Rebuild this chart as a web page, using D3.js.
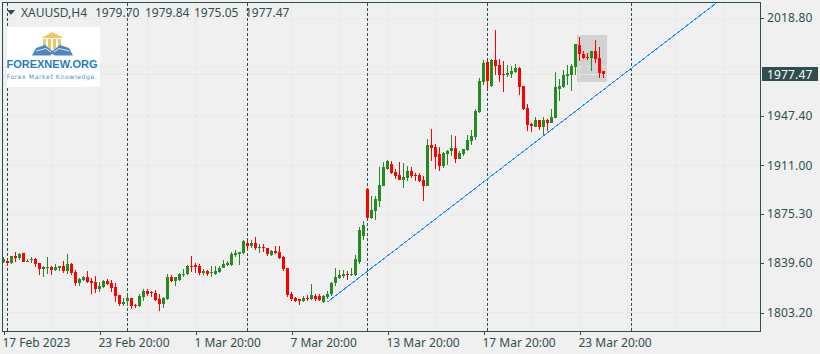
<!DOCTYPE html>
<html><head><meta charset="utf-8">
<script src="https://d3js.org/d3.v7.min.js"></script>
<style>html,body{margin:0;padding:0;background:#f0f0f0}svg{display:block}text{font-family:"Noto Sans",sans-serif;font-size:12px;fill:#2f4f4f}</style>
</head><body><div id="c"></div>
<script>
const opens=[1839.9,1841.2,1839.7,1844.6,1843.1,1846.5,1840.4,1841.6,1842.4,1839.4,1835.1,1835.8,1836.5,1834.3,1836.0,1837.2,1833.6,1838.7,1832.9,1824.8,1827.0,1829.2,1826.3,1825.5,1820.4,1821.9,1826.3,1824.8,1821.9,1816.0,1809.4,1811.6,1813.8,1808.7,1807.9,1814.6,1818.9,1817.9,1817.5,1813.1,1809.4,1813.1,1829.2,1826.3,1827.0,
1830.7,1831.4,1837.2,1838.0,1837.2,1832.1,1833.6,1832.1,1831.4,1832.9,1835.8,1838.0,1838.0,1845.3,1846.0,1846.8,1854.1,1851.9,1854.1,1850.4,1851.2,1850.4,1845.3,1848.2,1847.5,1843.8,1835.8,1816.8,1813.8,1813.1,1811.6,1813.8,1813.1,1815.3,1815.3,1810.9,1814.6,1816.8,1824.8,1828.5,1829.9,1831.4,1830.7,1830.7,
1840.2,1859.2,1893.6,1872.4,1877.5,1884.8,1895.8,1908.3,1911.9,1906.1,1903.9,1900.2,1901.7,1906.8,1903.9,1903.9,1900.2,1895.8,1925.8,1924.4,1919.3,1910.5,1919.3,1921.5,1923.6,1915.6,1919.3,1922.2,1928.8,1931.7,1950.0,1972.0,1986.6,1969.0,1988.1,1984.4,1977.8,1977.1,1977.8,1979.3,1982.2,1969.0,1952.9,1941.2,1939.0,1944.1,1939.0,1944.1,1942.0,1945.6,1966.8,1968.3,1976.4,1977.1,1983.0,1999.1,1992.5,1990.3,1989.5,1994.7,1989.5,1979.70];
const highs=[1843.6,1842.1,1844.6,1847.5,1847.0,1846.5,1842.1,1843.6,1842.9,1839.4,1837.2,1843.8,1837.2,1838.7,1837.2,1840.9,1846.0,1839.4,1834.3,1828.5,1829.9,1833.6,1828.5,1829.9,1825.5,1827.0,1827.7,1827.0,1824.8,1816.0,1813.8,1815.3,1813.8,1809.4,1816.8,1820.4,1820.4,1818.9,1819.7,1816.8,1814.6,1831.4,1830.7,1829.2,1832.1,
1834.8,1838.0,1844.6,1839.2,1838.7,1835.1,1834.3,1837.2,1837.2,1837.2,1841.6,1840.9,1847.5,1849.0,1847.5,1856.3,1856.3,1856.3,1858.5,1853.4,1853.4,1850.4,1849.0,1851.9,1851.9,1844.6,1835.8,1818.2,1814.8,1813.1,1815.3,1816.0,1824.1,1816.8,1816.8,1816.0,1818.9,1825.5,1835.8,1834.3,1834.3,1833.6,1835.8,1845.3,
1865.8,1870.2,1894.4,1888.5,1888.5,1909.7,1913.4,1914.9,1914.1,1908.3,1913.4,1912.7,1910.5,1909.7,1905.3,1905.3,1903.2,1930.2,1937.6,1926.6,1924.4,1920.7,1922.2,1933.2,1932.4,1921.5,1922.9,1933.2,1936.8,1952.2,1974.9,1988.1,1988.1,1988.8,2010.0,1988.8,1987.3,1984.4,1983.7,1985.1,1983.0,1969.0,1955.9,1942.0,1946.3,1944.1,1946.3,1944.9,1952.2,1979.3,1974.2,1980.8,1984.4,1985.1,1999.8,2004.9,1994.7,1993.2,1994.7,2002.7,1997.6,1979.84];
const lows=[1839.2,1837.2,1838.7,1840.2,1841.6,1840.2,1840.2,1839.7,1836.8,1830.7,1829.2,1831.4,1830.7,1833.8,1833.6,1832.1,1831.4,1830.7,1822.6,1822.6,1826.3,1824.8,1816.8,1817.5,1818.2,1821.1,1823.3,1818.2,1810.9,1807.9,1807.9,1807.9,1805.8,1806.5,1807.2,1811.6,1815.3,1814.6,1811.6,1804.3,1806.5,1812.4,1825.5,1822.6,1826.3,
1829.4,1830.7,1833.1,1831.9,1830.7,1830.7,1829.9,1829.4,1830.7,1832.1,1835.8,1837.2,1837.2,1844.1,1838.0,1846.0,1848.5,1850.2,1849.0,1847.0,1847.5,1844.6,1844.6,1846.0,1842.1,1833.6,1814.8,1811.6,1810.9,1808.7,1810.9,1811.6,1812.4,1811.9,1811.6,1810.4,1813.1,1815.3,1822.6,1827.7,1828.5,1827.0,1829.9,1829.9,
1838.7,1856.3,1871.7,1871.7,1870.9,1880.5,1895.8,1907.5,1904.6,1901.0,1900.2,1894.4,1899.5,1901.7,1899.5,1898.8,1884.8,1895.8,1914.1,1908.3,1906.8,1909.0,1911.2,1917.8,1912.7,1915.6,1917.8,1921.5,1925.8,1929.5,1949.3,1969.8,1966.8,1968.3,1977.1,1972.0,1964.6,1975.6,1974.9,1978.6,1962.4,1951.5,1936.1,1935.4,1939.0,1936.8,1933.2,1936.1,1942.0,1945.6,1958.1,1967.6,1969.8,1965.4,1977.1,1987.3,1988.8,1988.1,1980.0,1985.9,1974.9,1975.05];
const closes=[1842.1,1839.7,1844.6,1843.1,1846.0,1840.2,1841.2,1842.1,1838.7,1835.1,1836.5,1836.3,1834.3,1836.5,1837.2,1833.6,1838.7,1832.1,1824.8,1827.7,1829.2,1825.5,1824.8,1820.4,1822.6,1826.3,1824.1,1821.1,1815.3,1809.4,1810.9,1813.8,1807.9,1807.9,1815.3,1818.9,1816.8,1817.5,1812.4,1809.4,1813.8,1829.2,1826.3,1829.2,1831.4,
1831.4,1837.2,1836.5,1836.8,1832.1,1833.6,1831.4,1832.9,1833.6,1835.8,1838.7,1839.4,1846.0,1846.8,1847.5,1855.5,1851.9,1854.1,1850.4,1851.2,1850.4,1846.0,1848.2,1846.8,1843.1,1835.1,1816.0,1813.1,1811.6,1811.9,1813.8,1813.1,1816.0,1813.1,1812.4,1815.3,1816.8,1824.8,1829.2,1830.7,1831.4,1830.7,1831.4,1842.4,
1863.6,1867.3,1872.4,1878.3,1886.3,1896.6,1909.7,1914.1,1905.3,1903.2,1900.2,1902.4,1906.8,1903.2,1903.2,1899.5,1895.8,1925.8,1923.6,1917.1,1910.5,1920.0,1921.5,1923.6,1915.6,1920.0,1922.9,1929.5,1932.4,1950.7,1972.7,1985.9,1972.7,1988.1,1983.7,1977.1,1977.1,1978.6,1980.0,1982.2,1968.3,1952.2,1940.5,1939.8,1944.1,1939.0,1944.1,1942.0,1946.3,1968.3,1969.0,1977.1,1977.8,1983.7,1999.8,1992.5,1989.5,1989.5,1994.7,1988.8,1978.6,1977.47];

const priceTicks=[2018.80,1947.40,1911.00,1875.30,1839.60,1803.20];
const priceGrid=[2018.80,1983.10,1947.40,1911.00,1875.30,1839.60,1803.20];
const timeTickIdx=[0,24,48,72,96,120,144];
const timeTickLabels=["17 Feb 2023","23 Feb 20:00","1 Mar 20:00","7 Mar 20:00","13 Mar 20:00","17 Mar 20:00","23 Mar 20:00"];
const timeGridIdx=d3.range(0,156,12).concat([156,168,180]);
const separatorIdx=[1,31,61,91,121,157];
const headerTexts=["XAUUSD,H4","1979.70","1979.84","1975.05","1977.47"];
const headerIdx=[0,1,2,3,4];
const currentPrice=1977.47;
const trendIdx=[81,178.2];
const trendPrice=[1810.9,2029.8];
const boxIdx=[143.5,151];
const boxPrice=[2006.4,1972];

const W=820,H=354,L=2.5,R=760.5,T=2.5,B=331.5;
const FRAME="#2f4f4f",GRID="#e4e4e4",UP="#228b22",DOWN="#ff0000";
const x=d3.scaleLinear().domain([0,1]).range([3.5,7.5]);
const y=d3.scaleLinear().domain([1803.2,2018.8]).range([312.5,18.0]);
const px=v=>Math.round(y(v));

const svg=d3.select("#c").append("svg").attr("width",W).attr("height",H);
svg.append("defs").append("clipPath").attr("id","plot").append("rect")
  .attr("x",L).attr("y",T).attr("width",R-L).attr("height",B-T);
svg.append("rect").attr("width",W).attr("height",H).attr("fill","#f0f0f0");

const plot=svg.append("g").attr("clip-path","url(#plot)");
plot.append("rect").attr("x",x(boxIdx[0])-0.5).attr("width",x(boxIdx[1])-x(boxIdx[0]))
  .attr("y",px(boxPrice[0])).attr("height",px(boxPrice[1])-px(boxPrice[0])).attr("fill","#d2d2d2");

const grid=plot.append("g").attr("stroke",GRID).attr("stroke-dasharray","4 4").attr("shape-rendering","crispEdges");
grid.selectAll(".h").data(priceGrid).join("line").attr("x1",L).attr("x2",R)
  .attr("y1",d=>Math.floor(y(d))+.5).attr("y2",d=>Math.floor(y(d))+.5);
grid.selectAll(".v").data(timeGridIdx).join("line").attr("y1",T).attr("y2",B)
  .attr("x1",d=>x(d)).attr("x2",d=>x(d));

plot.append("line").attr("x1",L).attr("x2",R).attr("y1",px(currentPrice)+.5).attr("y2",px(currentPrice)+.5)
  .attr("stroke","#e6e6e6").attr("shape-rendering","crispEdges");

plot.append("g").attr("stroke",FRAME).attr("stroke-dasharray","3 2").attr("shape-rendering","crispEdges")
  .selectAll("line").data(separatorIdx).join("line").attr("y1",T).attr("y2",B)
  .attr("x1",d=>x(d)).attr("x2",d=>x(d));

const candles=plot.append("g").attr("shape-rendering","crispEdges")
  .selectAll("g").data(opens.map((o,i)=>({i,o,h:highs[i],l:lows[i],c:closes[i]}))).join("g")
  .attr("fill",d=>d.c>=d.o?UP:DOWN).attr("stroke",d=>d.c>=d.o?UP:DOWN);
candles.append("line").attr("x1",d=>x(d.i)).attr("x2",d=>x(d.i))
  .attr("y1",d=>px(d.h)).attr("y2",d=>px(d.l)).attr("stroke-width",1);
candles.append("rect").attr("stroke","none").attr("x",d=>x(d.i)-1.5).attr("width",3)
  .attr("y",d=>px(Math.max(d.o,d.c))).attr("height",d=>Math.max(1,px(Math.min(d.o,d.c))-px(Math.max(d.o,d.c))));

plot.append("line").attr("x1",x(trendIdx[0])).attr("x2",x(trendIdx[1]))
  .attr("y1",y(trendPrice[0])).attr("y2",y(trendPrice[1])).attr("stroke","#1e90ff").attr("stroke-width",1)
  .attr("shape-rendering","crispEdges");

// frame
svg.append("rect").attr("x",L).attr("y",T).attr("width",R-L).attr("height",B-T)
  .attr("fill","none").attr("stroke",FRAME).attr("shape-rendering","crispEdges");

// axes
const yAxis=svg.append("g").attr("transform",`translate(${R},0)`)
  .call(d3.axisRight(y).tickValues(priceTicks).tickFormat(d3.format(".2f")).tickSize(3).tickPadding(3));
yAxis.select(".domain").remove();
yAxis.selectAll("line").attr("stroke",FRAME).attr("shape-rendering","crispEdges");
yAxis.selectAll("text").attr("fill",FRAME).attr("x",6.5).style("font-family",'"Noto Sans",sans-serif').style("font-size","12px").style("letter-spacing","0.15px");

const xAxis=svg.append("g").attr("transform",`translate(0,${B})`)
  .call(d3.axisBottom(x).tickValues(timeTickIdx).tickFormat((d,i)=>timeTickLabels[i]).tickSize(3).tickPadding(3));
xAxis.select(".domain").remove();
xAxis.selectAll("line").attr("stroke",FRAME).attr("shape-rendering","crispEdges");
xAxis.selectAll("text").attr("fill",FRAME).attr("text-anchor","start").attr("x",-1.5).attr("y",7)
  .style("font-family",'"Noto Sans",sans-serif').style("font-size","12px");

// current price box
svg.append("rect").attr("x",762).attr("width",56).attr("y",px(currentPrice)-7).attr("height",14).attr("fill",FRAME);
svg.append("text").attr("x",767).attr("y",px(currentPrice)+4.5).style("fill","#ffffff").style("letter-spacing","0.15px").text(d3.format(".2f")(currentPrice));

// header
svg.append("path").attr("d","M7 10H15L11 15Z").attr("fill",FRAME);
const headerX=d3.scaleOrdinal().domain(headerIdx).range([21,95,145,194,245]);
svg.append("g").selectAll("text").data(headerTexts).join("text")
  .attr("x",(d,i)=>headerX(i)).attr("y",16.5).text(d=>d);

// logo
const logo=svg.append("g");
logo.append("rect").attr("x",7).attr("y",27).attr("width",93).attr("height",60).attr("fill","#fff");
logo.append("path").attr("d","M41.5 38L52.5 32L63.5 38Z").attr("fill","#f0c75e");
logo.append("g").attr("fill","#e9c765").selectAll("rect").data([43,48,53,58]).join("rect")
  .attr("x",d=>d).attr("y",39).attr("width",3).attr("height",10);
logo.append("path").attr("d","M32 55.5L36 48L45 45L52.5 51L60 45L69 48L73 55.5L55 55.5L52.5 54L50 55.5Z").attr("fill","#4f86c0");
logo.append("path").attr("d","M36 51L46 48.5L51 52M69 51L59 48.5L54 52").attr("fill","none").attr("stroke","#fff").attr("stroke-width",0.8);
logo.append("text").attr("x",52).attr("y",68).attr("text-anchor","middle")
  .style("font-family",'"Liberation Sans",sans-serif').style("font-size","11px").style("font-weight","700").style("fill","#1f7fc0").text("FOREXNEW.ORG");
logo.append("text").attr("x",52).attr("y",78.5).attr("text-anchor","middle")
  .style("font-family",'"DejaVu Sans",sans-serif').style("font-size","6.2px").style("fill","#4a93cc").style("letter-spacing","0.55px").text("Forex Market Knowledge.");
</script></body></html>
